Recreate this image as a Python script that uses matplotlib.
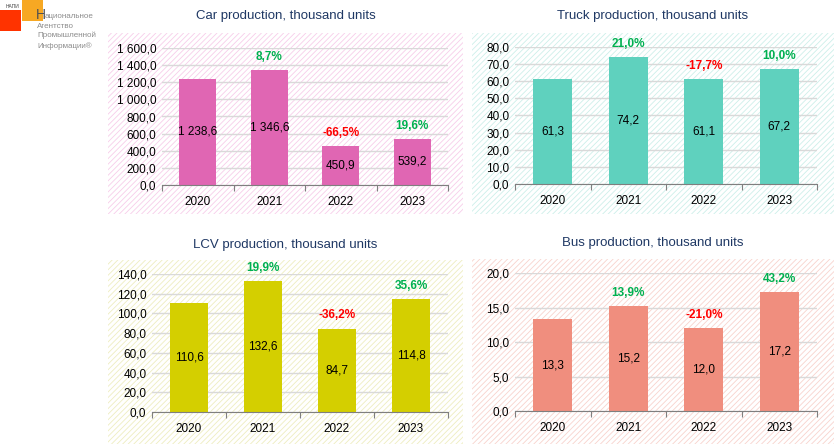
import matplotlib
matplotlib.use("Agg")
import matplotlib.pyplot as plt
from matplotlib.patches import Rectangle

plt.rcParams["font.family"] = ["Liberation Sans", "DejaVu Sans"]
plt.rcParams["hatch.linewidth"] = 0.6

# ---- data ----
years = ["2020", "2021", "2022", "2023"]

car_values = [1238.6, 1346.6, 450.9, 539.2]
car_change = [None, 8.7, -66.5, 19.6]

truck_values = [61.3, 74.2, 61.1, 67.2]
truck_change = [None, 21.0, -17.7, 10.0]

lcv_values = [110.6, 132.6, 84.7, 114.8]
lcv_change = [None, 19.9, -36.2, 35.6]

bus_values = [13.3, 15.2, 12.0, 17.2]
bus_change = [None, 13.9, -21.0, 43.2]

titles = ["Car production, thousand units", "Truck production, thousand units",
          "LCV production, thousand units", "Bus production, thousand units"]

W, H = 834, 444
fig = plt.figure(figsize=(W / 100, H / 100), dpi=100)


def fx(px):
    return px / W


def fy(py):
    return 1 - py / H


def fmt(v):
    s = f"{v:,.1f}"
    return s.replace(",", " ").replace(".", ",")


def pct(v):
    return f"{v:.1f}".replace(".", ",") + "%"


# panel: values, changes, ylim, step, bar color, bg hatch color, axes px box, bg px box, title y
panels = [
    (car_values, car_change, 1600, 200, "#E066B3", "#F7CDEA",
     (162, 48, 448, 185), (108, 33, 463, 214), 16),
    (truck_values, truck_change, 80, 10, "#5FD1BE", "#CDEFEA",
     (515, 47, 817, 184), (472, 33, 834, 214), 16),
    (lcv_values, lcv_change, 140, 20, "#D4CF00", "#EEEDC0",
     (152, 274, 448, 412), (108, 260, 463, 444), 245),
    (bus_values, bus_change, 20, 5, "#F08E7E", "#F8D3CD",
     (515, 273, 817, 411), (472, 259, 834, 444), 243),
]

for i, (vals, chg, ymax, step, color, hcol, abox, bbox, ty) in enumerate(panels):
    # hatched background
    x0, y0, x1, y1 = bbox
    bg = Rectangle((fx(x0), fy(y1)), fx(x1 - x0), (y1 - y0) / H,
                   transform=fig.transFigure, facecolor="white",
                   edgecolor=hcol, hatch="//////", linewidth=0, zorder=-5)
    fig.patches.append(bg)

    fig.text(fx((x0 + x1) / 2), fy(ty), titles[i], ha="center", va="center",
             fontsize=9.5, color="#1F3864")

    l, t, r, b = abox
    ax = fig.add_axes([fx(l), fy(b), fx(r - l), (b - t) / H])
    ax.set_zorder(2)
    ax.patch.set_alpha(0)
    ax.set_ylim(0, ymax)
    ax.set_xlim(-0.5, 3.5)
    n = int(round(ymax / step))
    ax.set_yticks([k * step for k in range(n + 1)])
    ax.set_yticklabels([fmt(k * step) for k in range(n + 1)], fontsize=8.5)
    ax.yaxis.grid(True, color="#D9D9D9", linewidth=1)
    ax.set_axisbelow(True)
    ax.tick_params(axis="y", length=0, pad=4)
    for s in ["top", "right", "left"]:
        ax.spines[s].set_visible(False)
    ax.spines["bottom"].set_color("#7F7F7F")

    xs = range(len(years))
    ax.bar(xs, vals, width=0.52, color=color, zorder=2)
    ax.set_xticks([k - 0.5 for k in range(len(years) + 1)], minor=False)
    ax.set_xticklabels([])
    ax.set_xticks(list(xs), minor=True)
    ax.set_xticklabels(years, minor=True, fontsize=8.5)
    ax.tick_params(axis="x", which="major", length=4, color="#7F7F7F", direction="out")
    ax.tick_params(axis="x", which="minor", length=0, pad=8)

    for x, v, c in zip(xs, vals, chg):
        ax.text(x, v / 2, fmt(v), ha="center", va="center", fontsize=8.5, color="black", zorder=3)
        if c is not None:
            ax.annotate(pct(c), (x, v), xytext=(0, 9.5), textcoords="offset points",
                        ha="center", va="center", fontsize=8.5, fontweight="bold",
                        color="#00B050" if c >= 0 else "#FF0000", annotation_clip=False)

# ---- logo ----
fig.patches.append(Rectangle((fx(0), fy(31)), fx(21), 21 / H, transform=fig.transFigure,
                             facecolor="#FF3300", edgecolor="none"))
fig.patches.append(Rectangle((fx(22), fy(21)), fx(21), 21 / H, transform=fig.transFigure,
                             facecolor="#F7A823", edgecolor="none"))
fig.text(fx(6), fy(6), "НАПИ", fontsize=3.5, color="#404040", va="center")
fig.text(fx(36), fy(15), "Н", fontsize=10, color="#505050", va="center")
fig.text(fx(44.5), fy(17), "ациональное", fontsize=5.8, color="#8C8C8C", va="center")
fig.text(fx(37), fy(26), "Агентство", fontsize=5.8, color="#8C8C8C", va="center")
fig.text(fx(37), fy(35), "Промышленной", fontsize=5.8, color="#8C8C8C", va="center")
fig.text(fx(37), fy(46), "Информации®", fontsize=5.8, color="#8C8C8C", va="center")

plt.savefig("out.png", dpi=100)
